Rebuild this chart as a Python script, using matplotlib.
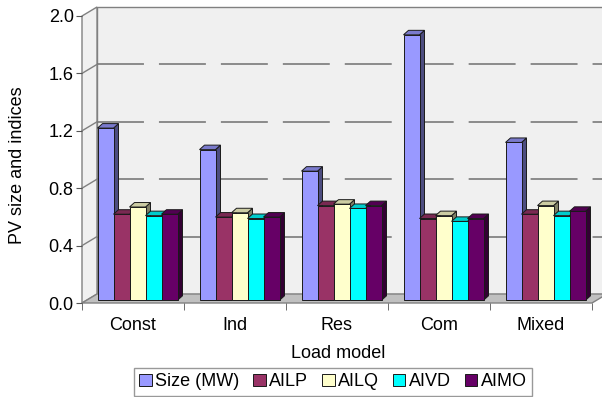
import numpy as np
import matplotlib.pyplot as plt
from matplotlib.patches import Polygon
from matplotlib.colors import to_rgb

plt.rcParams['font.family'] = ['Liberation Sans', 'DejaVu Sans']
plt.rcParams['lines.scale_dashes'] = False

MODELS = ["Const", "Ind", "Res", "Com", "Mixed"]
SERIES = ["Size (MW)", "AILP", "AILQ", "AIVD", "AIMO"]
COLORS = ["#9999ff", "#993366", "#ffffcc", "#00ffff", "#660066"]

size_mw = [1.20, 1.05, 0.90, 1.85, 1.10]
ailp = [0.60, 0.58, 0.66, 0.57, 0.60]
ailq = [0.65, 0.61, 0.67, 0.59, 0.66]
aivd = [0.59, 0.57, 0.64, 0.55, 0.59]
aimo = [0.60, 0.58, 0.66, 0.57, 0.62]
YTICKS = [0.0, 0.4, 0.8, 1.2, 1.6, 2.0]

# pseudo-3d geometry (in data units)
WALL_DX, WALL_DY = 15 / 102, 9 / 143.5
BAR_Z = 0.3                      # bar row position inside the depth
BAR_DX, BAR_DY = 5 / 102, 4.5 / 143.5
BAR_W = 16 / 102
GRID = "#808080"


def shade(c, k):
    return tuple(v * k for v in to_rgb(c))


fig = plt.figure(figsize=(6.02, 3.97), dpi=100)
ax = fig.add_axes([82 / 602, 94 / 397, 510 / 602, 287 / 397])
ax.set_xlim(-0.5, 4.5)
ax.set_ylim(0, 2)
ax.patch.set_visible(False)
for s in ax.spines.values():
    s.set_visible(False)

x0, x1, top = -0.5, 4.5, YTICKS[-1]
walls = [
    ([(x0 + WALL_DX, WALL_DY), (x1 + WALL_DX, WALL_DY),
      (x1 + WALL_DX, top + WALL_DY), (x0 + WALL_DX, top + WALL_DY)], "#f0f0f0"),
    ([(x0, 0), (x0 + WALL_DX, WALL_DY), (x0 + WALL_DX, top + WALL_DY), (x0, top)], "#f0f0f0"),
    ([(x0, 0), (x1, 0), (x1 + WALL_DX, WALL_DY), (x0 + WALL_DX, WALL_DY)], "#c0c0c0"),
]
for pts, fc in walls:
    ax.add_patch(Polygon(pts, closed=True, fc=fc, ec=GRID, lw=1.0,
                         zorder=0, clip_on=False))

for v in YTICKS[1:-1]:
    ax.plot([x0 + WALL_DX, x1 + WALL_DX], [v + WALL_DY] * 2, color="#707070",
            lw=1.1, dashes=(33.8, 10.8), zorder=1, clip_on=False)
    ax.plot([x0, x0 + WALL_DX], [v, v + WALL_DY], color=GRID, lw=1.0,
            zorder=1, clip_on=False)

data = [size_mw, ailp, ailq, aivd, aimo]
idx = np.arange(len(MODELS))
base = BAR_Z * WALL_DY
handles = []
for i, (vals, color) in enumerate(zip(data, COLORS)):
    z = 2 + i * 0.1
    left = idx - 2.5 * BAR_W + i * BAR_W + BAR_Z * WALL_DX
    bars = ax.bar(left, vals, width=BAR_W, bottom=base, align="edge",
                  color=color, edgecolor="#1a1a1a", lw=0.7, zorder=z + 0.05,
                  label=SERIES[i])
    handles.append(bars)
    for xl, v in zip(left, vals):
        xr, yt = xl + BAR_W, base + v
        side = [(xr, base), (xr + BAR_DX, base + BAR_DY),
                (xr + BAR_DX, yt + BAR_DY), (xr, yt)]
        cap = [(xl, yt), (xr, yt), (xr + BAR_DX, yt + BAR_DY), (xl + BAR_DX, yt + BAR_DY)]
        ax.add_patch(Polygon(side, closed=True, fc=shade(color, 0.5),
                             ec="#1a1a1a", lw=0.7, zorder=z, clip_on=False))
        ax.add_patch(Polygon(cap, closed=True, fc=shade(color, 0.8),
                             ec="#1a1a1a", lw=0.7, zorder=z, clip_on=False))

ax.set_yticks(YTICKS)
ax.set_yticklabels([f"{t:.1f}" for t in YTICKS])
ax.tick_params(axis="y", length=4, color="#555555", labelsize=13, pad=2)
ax.set_xticks(idx)
ax.set_xticklabels(MODELS)
ax.set_xticks(np.arange(-0.5, 5), minor=True)
ax.tick_params(axis="x", which="major", length=0, labelsize=13, pad=10)
ax.tick_params(axis="x", which="minor", length=5, color="#555555")

fig.text(18 / 602, 1 - 165 / 397, "PV size and indices", rotation=90,
         ha="center", va="center", fontsize=13)
fig.text(338 / 602, 1 - 354 / 397, "Load model", ha="center", va="center",
         fontsize=13)

leg = ax.legend(handles=handles, ncol=5, loc="upper center",
                bbox_to_anchor=(333 / 602, 1 - 368 / 397),
                bbox_transform=fig.transFigure, fontsize=13, frameon=True,
                fancybox=False, edgecolor=GRID, handlelength=0.7,
                handleheight=0.7, handletextpad=0.2, columnspacing=0.75,
                borderpad=0.3, borderaxespad=0)
leg.get_frame().set_linewidth(1.0)

fig.savefig("out.png", dpi=100)
